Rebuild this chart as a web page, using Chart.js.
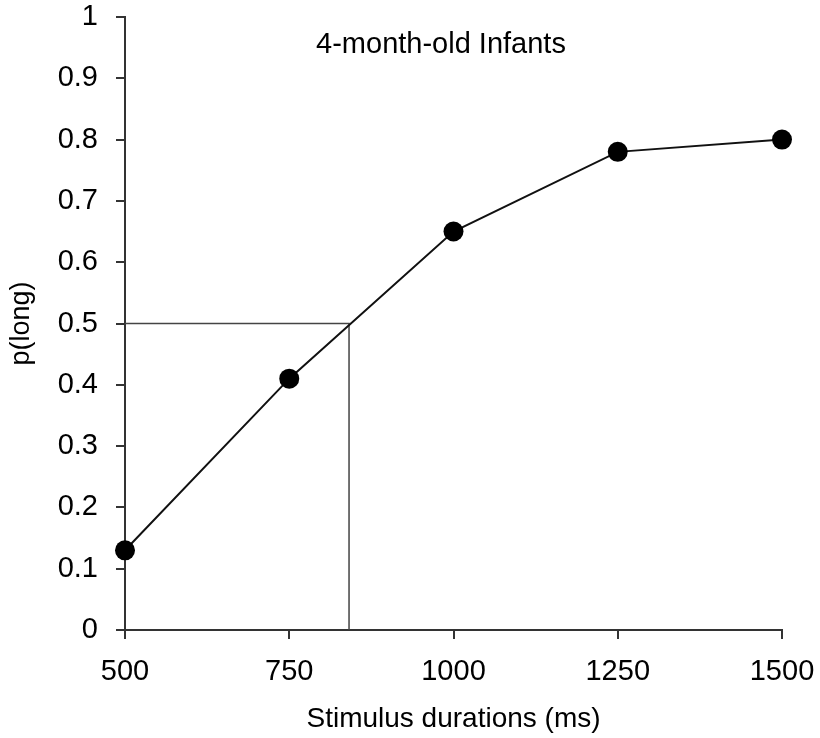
<!DOCTYPE html>
<html>
<head>
<meta charset="utf-8">
<script src="https://cdn.jsdelivr.net/npm/chart.js@4"></script>
<style>
    html, body { margin: 0; padding: 0; background: #fff; }
    #wrap { width: 820px; height: 738px; }
</style>
</head>
<body>
<div id="wrap"><canvas id="chart"></canvas></div>
<script>
const durations = [500, 750, 1000, 1250, 1500];
const pLong = [0.13, 0.41, 0.65, 0.78, 0.80];
const threshold = 841;
const xTicks = [500, 750, 1000, 1250, 1500];
const yTicks = [0, 0.1, 0.2, 0.3, 0.4, 0.5, 0.6, 0.7, 0.8, 0.9, 1];
const chartTitle = '4-month-old Infants';

const FONT = '"Liberation Sans", Arial, sans-serif';

// title sits inside the plot area, near the top
const titlePlugin = {
    id: 'innerTitle',
    afterDraw(chart) {
        const ctx = chart.ctx;
        const area = chart.chartArea;
        ctx.save();
        ctx.font = '29px ' + FONT;
        ctx.fillStyle = '#000';
        ctx.textAlign = 'center';
        ctx.textBaseline = 'middle';
        ctx.fillText(chartTitle, area.left + 316, area.top + 28);
        ctx.restore();
    }
};

new Chart(document.getElementById('chart'), {
    type: 'scatter',
    data: {
        datasets: [{
            data: durations.map((d, i) => ({x: d, y: pLong[i]})),
            showLine: true,
            borderColor: '#111',
            borderWidth: 2,
            backgroundColor: '#000',
            pointBackgroundColor: '#000',
            pointBorderWidth: 0,
            pointRadius: 10,
            clip: false,
            order: 0
        }, {
            data: [{x: 500, y: 0.5}, {x: threshold, y: 0.5}, {x: threshold, y: 0}],
            showLine: true,
            borderColor: '#444',
            borderWidth: 1.5,
            pointRadius: 0,
            order: 1
        }]
    },
    options: {
        animation: false,
        maintainAspectRatio: false,
        responsive: true,
        layout: {
            padding: {top: 17, right: 38, left: 0, bottom: 0}
        },
        plugins: {
            legend: {display: false},
            tooltip: {enabled: false}
        },
        scales: {
            x: {
                type: 'linear',
                min: 500,
                max: 1500,
                afterBuildTicks: function(axis) {
                    axis.ticks = xTicks.map(v => ({value: v}));
                },
                afterFit: function(axis) {
                    axis.height = 108;
                    axis.paddingLeft = 0;
                    axis.paddingRight = 0;
                },
                grid: {
                    drawOnChartArea: false,
                    drawTicks: true,
                    tickLength: 9,
                    color: '#333',
                    lineWidth: 2
                },
                border: {display: true, color: '#333', width: 2},
                ticks: {
                    color: '#000',
                    padding: 16,
                    maxRotation: 0,
                    font: {family: FONT, size: 29},
                    callback: function(value) {
                        return String(value);
                    }
                },
                title: {
                    display: true,
                    text: 'Stimulus durations (ms)',
                    color: '#000',
                    padding: {top: 4, bottom: 2},
                    font: {family: FONT, size: 28}
                }
            },
            y: {
                type: 'linear',
                min: 0,
                max: 1,
                afterBuildTicks: function(axis) {
                    axis.ticks = yTicks.map(v => ({value: v}));
                },
                afterFit: function(axis) {
                    axis.width = 125;
                    axis.paddingTop = 0;
                    axis.paddingBottom = 0;
                },
                grid: {
                    drawOnChartArea: false,
                    drawTicks: true,
                    tickLength: 9,
                    color: '#333',
                    lineWidth: 2
                },
                border: {display: true, color: '#333', width: 2},
                ticks: {
                    color: '#000',
                    padding: 18,
                    font: {family: FONT, size: 29},
                    callback: function(value) {
                        return String(Math.round(value * 10) / 10);
                    }
                },
                title: {
                    display: true,
                    text: 'p(long)',
                    color: '#000',
                    padding: {top: 5, bottom: 4},
                    font: {family: FONT, size: 27}
                }
            }
        }
    },
    plugins: [titlePlugin]
});
</script>
</body>
</html>
